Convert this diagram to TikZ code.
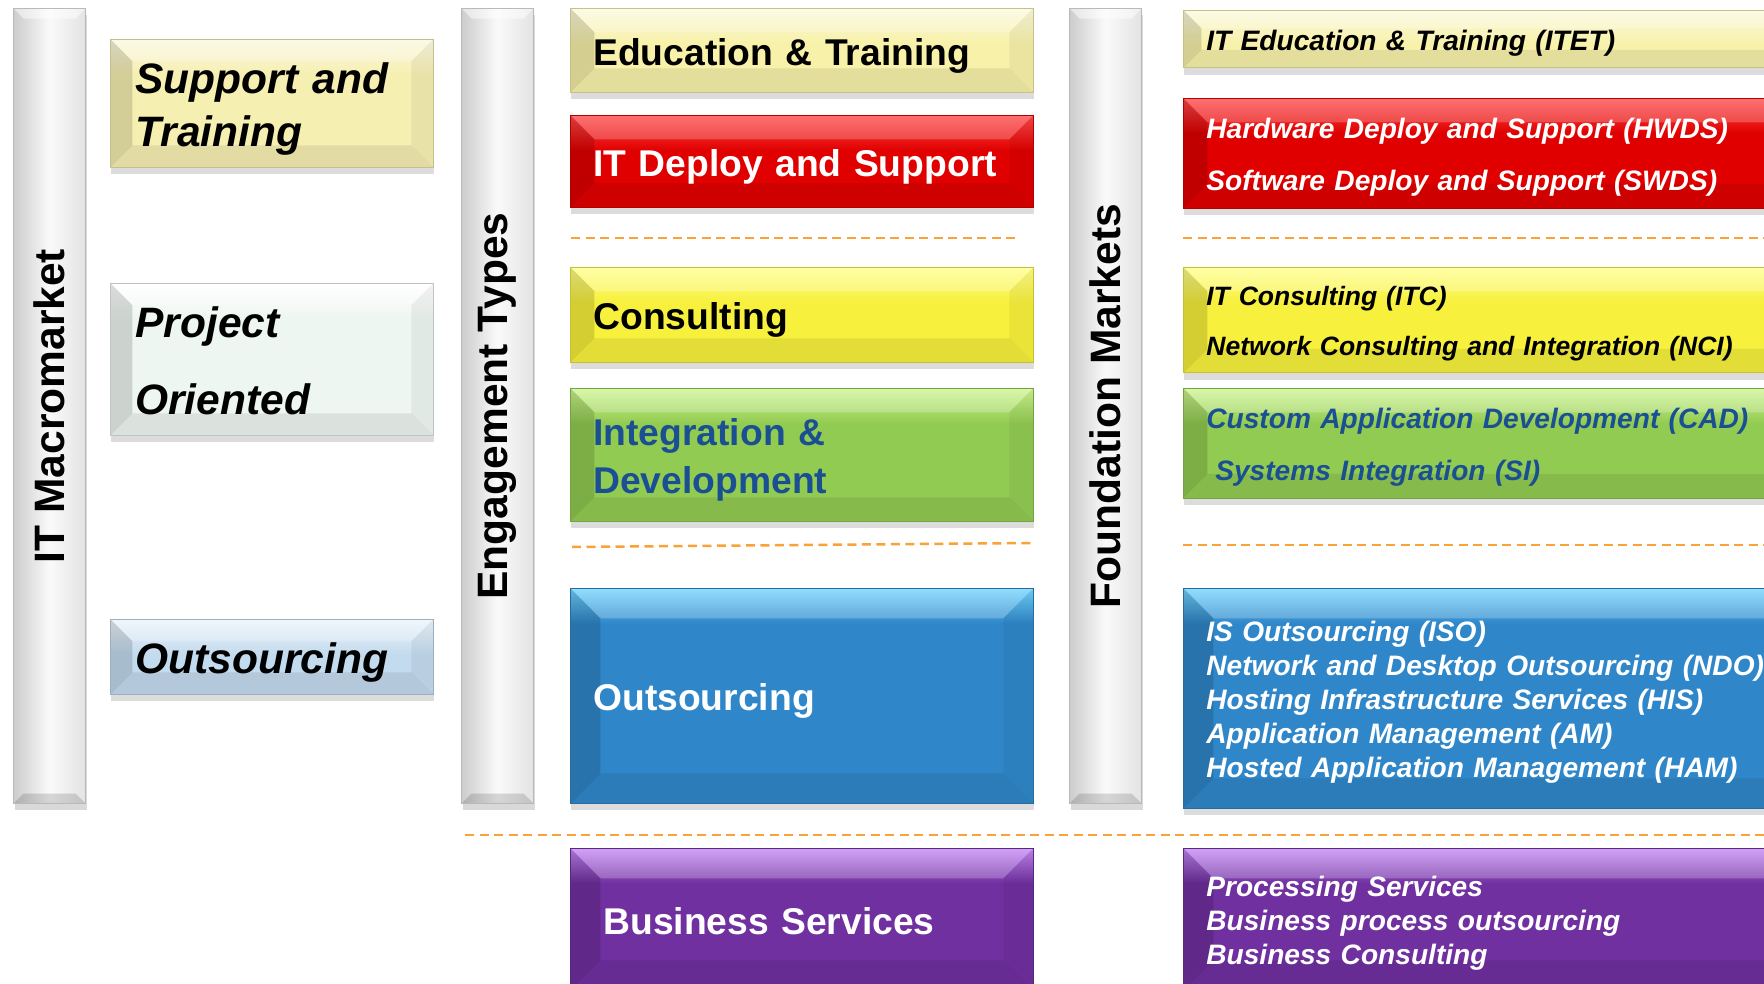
\documentclass[tikz,border=0pt]{standalone}
\usepackage[dvipsnames]{xcolor}
\usepackage{fontspec}
\setmainfont{Liberation Sans}
\usepackage{tikz}
\usetikzlibrary{calc, positioning, shadows}

\definecolor{paleyel}{HTML}{F6EFB2}
\definecolor{mint}{HTML}{EEF6F1}
\definecolor{skyblue}{HTML}{C3DBEE}
\definecolor{eduyel}{HTML}{F7F1A9}
\definecolor{deployred}{HTML}{E00000}
\definecolor{deploygloss}{HTML}{FF4848}
\definecolor{consyel}{HTML}{F7F03C}
\definecolor{intgreen}{HTML}{92CB52}
\definecolor{intgloss}{HTML}{CFF590}
\definecolor{outblue}{HTML}{2F87C9}
\definecolor{outgloss}{HTML}{72D4FF}
\definecolor{buspurple}{HTML}{7030A0}
\definecolor{busgloss}{HTML}{C488F5}
\definecolor{navytext}{HTML}{1B4F93}
\definecolor{sepcol}{HTML}{F8A238}

\newcommand{\bevsize}{2.4mm}
\newcommand{\boxstrut}{\rule[-.212em]{0pt}{1.212em}}

\tikzset{
  bev/.store in=\bevsize,
  tile/.style 2 args={anchor=north west, align=left, fill=#1, draw=#1!80!black, line width=0.2pt,
    execute at begin node=\boxstrut, execute at end node=\boxstrut,
    drop shadow={shadow xshift=0.1mm, shadow yshift=-0.7mm, opacity=.28},
    path picture={
      \path (path picture bounding box.north west) coordinate (fnw)
            (path picture bounding box.north east) coordinate (fne)
            (path picture bounding box.south west) coordinate (fsw)
            (path picture bounding box.south east) coordinate (fse);
      \shade[top color=#2, bottom color=#1] (fnw) rectangle ([yshift=-3.5mm]fne);
      \fill[white, opacity=.22] (fnw) -- (fne) -- ([shift={(-\bevsize,-\bevsize)}]fne) -- ([shift={(\bevsize,-\bevsize)}]fnw) -- cycle;
      \fill[black, opacity=.14] (fnw) -- ([shift={(\bevsize,-\bevsize)}]fnw) -- ([shift={(\bevsize,\bevsize)}]fsw) -- (fsw) -- cycle;
      \fill[black, opacity=.05] (fne) -- ([shift={(-\bevsize,-\bevsize)}]fne) -- ([shift={(-\bevsize,\bevsize)}]fse) -- (fse) -- cycle;
      \fill[black, opacity=.08] (fsw) -- ([shift={(\bevsize,\bevsize)}]fsw) -- ([shift={(-\bevsize,\bevsize)}]fse) -- (fse) -- cycle;
    }},
  pillar/.style={anchor=north west, draw=gray!55, line width=.3pt, minimum width=7.2mm, minimum height=79.5mm,
    left color=gray!40, right color=gray!22, middle color=gray!4,
    drop shadow={shadow xshift=0.1mm, shadow yshift=-0.6mm, opacity=.3},
    path picture={
      \fill[black, opacity=.14] (path picture bounding box.south west) -- ++(1mm,1mm) -- ([shift={(-1mm,1mm)}]path picture bounding box.south east) -- (path picture bounding box.south east) -- cycle;
      \fill[white, opacity=.5] (path picture bounding box.north west) -- ++(1mm,-1mm) -- ([shift={(-1mm,-1mm)}]path picture bounding box.north east) -- (path picture bounding box.north east) -- cycle;
    }},
  bartext/.style={rotate=90, font=\bfseries\fontsize{12.1}{14}\selectfont},
  leftbox/.style={minimum width=32.3mm, text width=27.3mm, inner xsep=2.5mm, bev=2.2mm,
    font=\bfseries\itshape\fontsize{12.1}{15.1}\selectfont},
  midbox/.style={minimum width=46.3mm, text width=41.7mm, inner xsep=2.3mm,
    font=\bfseries\fontsize{10.6}{12.8}\selectfont},
  rightbox/.style={minimum width=62mm, text width=57.4mm, inner xsep=2.2mm,
    font=\bfseries\itshape\fontsize{8}{9.7}\selectfont},
  sepline/.style={draw=sepcol, line width=0.25mm, dash pattern=on 0.9mm off 0.55mm}
}

\begin{document}
\begin{tikzpicture}[x=0.1mm, y=-0.1mm]
  \useasboundingbox (0,0) rectangle (1764,984);
  \clip (0,0) rectangle (1764,984);

  % grey pillars
  \node[pillar] (barIT) at (13,8) {};
  \node[pillar] (barET) at (461,8) {};
  \node[pillar] (barFM) at (1069,8) {};
  \node[bartext] (lblIT) at (barIT.center) {IT Macromarket};
  \node[bartext] (lblET) at (barET.center) {Engagement Types};
  \node[bartext] (lblFM) at (barFM.center) {Foundation Markets};

  % macromarket
  \node[tile={paleyel}{paleyel!40!white}, leftbox, minimum height=12.6mm] (supp) at (110,39) {Support and\\Training};
  \node[tile={mint}{white}, leftbox, minimum height=15.1mm] (proj) at (110,283) {Project\\[6.8pt]Oriented};
  \node[tile={skyblue}{skyblue!30!white}, leftbox, minimum height=7.3mm] (outl) at (110,619) {Outsourcing};

  % engagement types
  \node[tile={eduyel}{eduyel!40!white}, midbox, minimum height=8.4mm] (edu) at (570,8) {Education \& Training};
  \node[tile={deployred}{deploygloss}, midbox, minimum height=9.2mm, text=white] (dep) at (570,115) {IT Deploy and Support};
  \node[tile={consyel}{yellow!45!white}, midbox, minimum height=9.5mm] (con) at (570,267) {Consulting};
  \node[tile={intgreen}{intgloss}, midbox, minimum height=13.3mm, text=navytext] (intdev) at (570,388) {Integration \&\\Development};
  \node[tile={outblue}{outgloss}, midbox, minimum height=21.5mm, bev=3mm, text=white] (outm) at (570,588) {Outsourcing};
  \node[tile={buspurple}{busgloss}, midbox, minimum height=14.2mm, bev=3mm, text=white] (bus) at (570,848) {\hspace*{1mm}Business Services};

  % foundation markets
  \node[tile={eduyel}{eduyel!40!white}, rightbox, minimum height=5.4mm, bev=1.8mm] (itet) at (1183,10) {IT Education \& Training (ITET)};
  \node[tile={deployred}{deploygloss}, rightbox, minimum height=10.6mm, text=white] (hwds) at (1183,98) {Hardware Deploy and Support (HWDS)\\[5.1pt]Software Deploy and Support (SWDS)};
  \node[tile={consyel}{yellow!45!white}, rightbox, minimum height=10.2mm, font=\bfseries\itshape\fontsize{7.55}{9.7}\selectfont] (itc) at (1183,267) {IT Consulting (ITC)\\[4.5pt]Network Consulting and Integration (NCI)};
  \node[tile={intgreen}{intgloss}, rightbox, minimum height=10.6mm, text=navytext] (cad) at (1183,388) {Custom Application Development (CAD)\\[5.1pt]\hspace*{0.9mm}Systems Integration (SI)};
  \node[tile={outblue}{outgloss}, rightbox, minimum height=22mm, bev=3mm, text=white] (outr) at (1183,588) {IS Outsourcing (ISO)\\Network and Desktop Outsourcing (NDO)\\Hosting Infrastructure Services (HIS)\\Application Management (AM)\\Hosted Application Management (HAM)};
  \node[tile={buspurple}{busgloss}, rightbox, minimum height=14.2mm, bev=3mm, text=white] (busr) at (1183,848) {Processing Services\\Business process outsourcing\\Business Consulting};

  % separators
  \draw[sepline] (571,238) -- (1018,238);
  \draw[sepline] (1183,238) -- (1764,238);
  \draw[sepline] (572,547) -- (1033,543);
  \draw[sepline] (1183,545) -- (1764,545);
  \draw[sepline] (465,835) -- (1764,835);
\end{tikzpicture}
\end{document}
